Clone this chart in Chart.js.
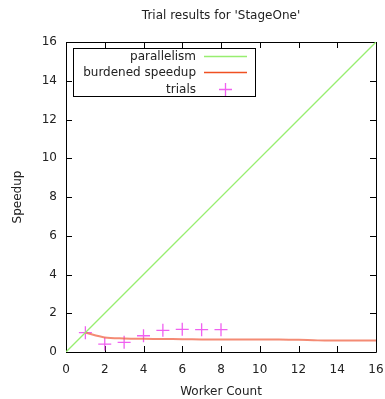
<!DOCTYPE html>
<html>
<head>
<meta charset="utf-8">
<script src="https://cdn.jsdelivr.net/npm/chart.js@4.4.0/dist/chart.umd.min.js"></script>
<style>
  html, body { margin: 0; padding: 0; background: #fff; }
  #chart { display: block; }
</style>
</head>
<body>
<canvas id="chart" width="385" height="399"></canvas>
<script>
// Chart data
const chartTitle = "Trial results for 'StageOne'";
const parallelX = [0, 16];
const parallelY = [0, 16];
const burdenedX = [1, 2, 3, 4, 5, 6, 7, 8, 9, 10, 11, 12, 13, 14, 15, 16];
const burdenedY = [1.0, 0.75, 0.70, 0.68, 0.67, 0.66, 0.65, 0.65, 0.64, 0.64, 0.64, 0.63, 0.60, 0.60, 0.60, 0.60];
const trialX = [1, 2, 3, 4, 5, 6, 7, 8];
const trialY = [1.0, 0.41, 0.50, 0.84, 1.12, 1.17, 1.15, 1.15];
const xTicks = [0, 2, 4, 6, 8, 10, 12, 14, 16];
const yTicks = [0, 2, 4, 6, 8, 10, 12, 14, 16];

const FONT = 'DejaVu Sans';

const toPoints = (xs, ys) => xs.map((x, i) => ({ x, y: ys[i] }));

// Frame, inward ticks, title and legend box (gnuplot look)
const gnuplotDecor = {
    id: 'gnuplotDecor',
    beforeDatasetsDraw(chart) {
        const { ctx, chartArea: a, scales: { x, y } } = chart;
        ctx.save();
        ctx.strokeStyle = '#000';
        ctx.lineWidth = 1;
        const L = Math.round(a.left), R = Math.round(a.right);
        const T = Math.round(a.top), B = Math.round(a.bottom);
        ctx.beginPath();
        ctx.rect(L + 0.5, T + 0.5, R - L, B - T);
        ctx.stroke();

        // inward ticks on all four sides
        const len = 6;
        ctx.beginPath();
        xTicks.forEach(v => {
            const px = Math.round(x.getPixelForValue(v)) + 0.5;
            ctx.moveTo(px, B); ctx.lineTo(px, B - len);
            ctx.moveTo(px, T); ctx.lineTo(px, T + len);
        });
        yTicks.forEach(v => {
            const py = Math.round(y.getPixelForValue(v)) + 0.5;
            ctx.moveTo(L, py); ctx.lineTo(L + len, py);
            ctx.moveTo(R, py); ctx.lineTo(R - len, py);
        });
        ctx.stroke();

        // title centred over the plot
        ctx.fillStyle = '#222';
        ctx.font = `12px '${FONT}'`;
        ctx.textAlign = 'center';
        ctx.textBaseline = 'middle';
        ctx.fillText(chartTitle, (a.left + a.right) / 2, 16);
        ctx.restore();
    },
    afterDatasetsDraw(chart) {
        const { ctx } = chart;
        const box = { left: 73, top: 48, right: 255, bottom: 96 };
        const rows = [56, 72, 89];
        ctx.save();
        ctx.fillStyle = '#fff';
        ctx.fillRect(box.left, box.top, box.right - box.left, box.bottom - box.top);
        ctx.strokeStyle = '#000';
        ctx.lineWidth = 1;
        ctx.strokeRect(box.left + 0.5, box.top + 0.5, box.right - box.left, box.bottom - box.top);

        ctx.font = `12px '${FONT}'`;
        ctx.textAlign = 'right';
        ctx.textBaseline = 'middle';
        chart.data.datasets.forEach((ds, i) => {
            const yy = rows[i];
            ctx.fillStyle = '#222';
            ctx.fillText(ds.label, 196, yy + 0.5);
            ctx.strokeStyle = ds.legendColor;
            ctx.lineWidth = ds.legendWidth;
            ctx.beginPath();
            if (ds.showLine === false) {
                ctx.moveTo(219, yy + 0.5); ctx.lineTo(232, yy + 0.5);
                ctx.moveTo(225.5, yy - 6); ctx.lineTo(225.5, yy + 7);
            } else {
                ctx.moveTo(204, yy + 0.5); ctx.lineTo(247, yy + 0.5);
            }
            ctx.stroke();
        });
        ctx.restore();
    }
};

const ctx = document.getElementById('chart').getContext('2d');
new Chart(ctx, {
    type: 'scatter',
    data: {
        datasets: [
            {
                label: 'parallelism',
                data: toPoints(parallelX, parallelY),
                showLine: true,
                borderColor: '#98ee70',
                legendColor: '#98ee70',
                legendWidth: 1.5,
                borderWidth: 1.3,
                pointRadius: 0
            },
            {
                label: 'burdened speedup',
                data: toPoints(burdenedX, burdenedY),
                showLine: true,
                borderColor: 'rgba(240, 100, 70, 0.75)',
                legendColor: '#f05022',
                legendWidth: 1.3,
                borderWidth: 2,
                tension: 0.3,
                pointRadius: 0
            },
            {
                label: 'trials',
                data: toPoints(trialX, trialY),
                showLine: false,
                pointStyle: 'cross',
                pointRadius: 6.5,
                pointBorderWidth: 1.3,
                borderColor: '#f060f0',
                legendColor: '#f060f0',
                legendWidth: 1.3,
                backgroundColor: '#f060f0'
            }
        ]
    },
    options: {
        responsive: false,
        animation: false,
        events: [],
        layout: { autoPadding: false, padding: { left: 0, right: 9, top: 42, bottom: 0 } },
        plugins: {
            legend: { display: false },
            title: { display: false },
            tooltip: { enabled: false }
        },
        scales: {
            x: {
                type: 'linear',
                min: 0,
                max: 16,
                afterFit: (scale) => {
                    scale.height = 47;
                    scale.paddingLeft = 0;
                    scale.paddingRight = 0;
                },
                afterBuildTicks: (scale) => { scale.ticks = xTicks.map(v => ({ value: v })); },
                grid: { display: false, drawTicks: false },
                border: { display: false },
                ticks: { color: '#222', padding: 11, font: { family: FONT, size: 12 } },
                title: {
                    display: true,
                    text: 'Worker Count',
                    color: '#222',
                    padding: { top: 0, bottom: 0 },
                    font: { family: FONT, size: 12 }
                }
            },
            y: {
                type: 'linear',
                min: 0,
                max: 16,
                afterFit: (scale) => {
                    scale.width = 66;
                    scale.paddingTop = 0;
                    scale.paddingBottom = 0;
                },
                afterBuildTicks: (scale) => { scale.ticks = yTicks.map(v => ({ value: v })); },
                grid: { display: false, drawTicks: false },
                border: { display: false },
                ticks: { color: '#222', padding: 9, font: { family: FONT, size: 12 } },
                title: {
                    display: true,
                    text: 'Speedup',
                    color: '#222',
                    padding: { top: 11, bottom: 0 },
                    font: { family: FONT, size: 12 }
                }
            }
        }
    },
    plugins: [gnuplotDecor]
});
</script>
</body>
</html>
